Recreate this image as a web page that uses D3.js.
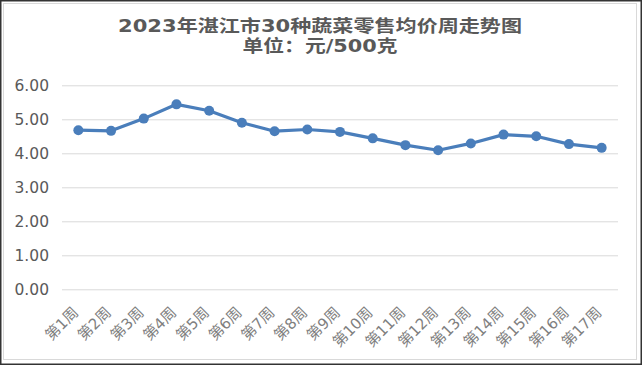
<!DOCTYPE html>
<html><head><meta charset="utf-8">
<script src="https://cdn.jsdelivr.net/npm/d3@7"></script>
<style>html,body{margin:0;padding:0;background:#fff;}svg{display:block;}</style>
</head><body>
<svg id="c" width="642" height="365"></svg>
<script>
const categories = ["第1周","第2周","第3周","第4周","第5周","第6周","第7周","第8周","第9周","第10周","第11周","第12周","第13周","第14周","第15周","第16周","第17周"];
const prices = [4.68,4.66,5.02,5.44,5.25,4.90,4.65,4.70,4.63,4.44,4.24,4.09,4.29,4.55,4.50,4.27,4.16];
const yTicks = [0,1,2,3,4,5,6];
const titleLines = ["2023年湛江市30种蔬菜零售均价周走势图","单位：元/500克"];

(function(){
const svg = d3.select("#c");
const W = 642, H = 365;
// frame
svg.append("rect").attr("x",0.75).attr("y",0.75).attr("width",W-1.5).attr("height",H-1.5)
  .attr("fill","#fff").attr("stroke","#333").attr("stroke-width",1.5);
svg.append("rect").attr("x",3.5).attr("y",3.5).attr("width",W-9).attr("height",H-9)
  .attr("fill","none").attr("stroke","#d9d9d9").attr("stroke-width",1);

const mLeft = 62, mRight = 618, mTop = 85.3, mBottom = 289.3;
const x = d3.scaleBand().domain(categories).range([mLeft,mRight]);
const y = d3.scaleLinear().domain([0,6]).range([mBottom,mTop]);

// title (two lines, horizontally fitted)
const titleY = [31.5, 51.5], titleW = [404, 155];
svg.selectAll("text.title").data(titleLines).enter().append("text").attr("class","title")
  .attr("x",320).attr("y",(d,i)=>titleY[i]).attr("text-anchor","middle").attr("fill","#595959")
  .attr("font-family","'DejaVu Sans', 'Noto Sans CJK SC', sans-serif").attr("font-weight","bold").attr("font-size",17)
  .attr("textLength",(d,i)=>titleW[i]).attr("lengthAdjust","spacingAndGlyphs")
  .text(d=>d);

// grid + y axis
const ya = d3.axisLeft(y).tickValues(yTicks).tickSize(-(mRight-mLeft)).tickFormat(d3.format(".2f")).tickPadding(13);
const gy = svg.append("g").attr("transform",`translate(${mLeft},0)`).call(ya);
gy.select(".domain").remove();
gy.selectAll(".tick line").attr("stroke","#d9d9d9").attr("stroke-width",1);
gy.selectAll(".tick text").attr("fill","#595959").attr("font-size",15.5)
  .attr("font-family","'DejaVu Sans', sans-serif");

// x axis labels
const xa = d3.axisBottom(x).tickSize(0).tickPadding(0);
const gx = svg.append("g").attr("transform",`translate(0,${mBottom})`).call(xa);
gx.select(".domain").remove();
gx.selectAll(".tick text")
  .attr("fill","#7f7f7f").attr("font-size",15)
  .attr("font-family","'DejaVu Sans', 'Noto Sans CJK SC', sans-serif")
  .attr("text-anchor","end").attr("dy",null).attr("y",0)
  .attr("transform","translate(1,24) rotate(-45)");

// line
const line = d3.line().x((d,i)=>x(categories[i])+x.bandwidth()/2).y(d=>y(d));
svg.append("path").datum(prices).attr("d",line).attr("fill","none")
  .attr("stroke","#4a7ebb").attr("stroke-width",3.2).attr("stroke-linejoin","round");
svg.selectAll("circle.pt").data(prices).enter().append("circle").attr("class","pt")
  .attr("cx",(d,i)=>x(categories[i])+x.bandwidth()/2).attr("cy",d=>y(d)).attr("r",5)
  .attr("fill","#4a7ebb");
})();
</script>
</body></html>
